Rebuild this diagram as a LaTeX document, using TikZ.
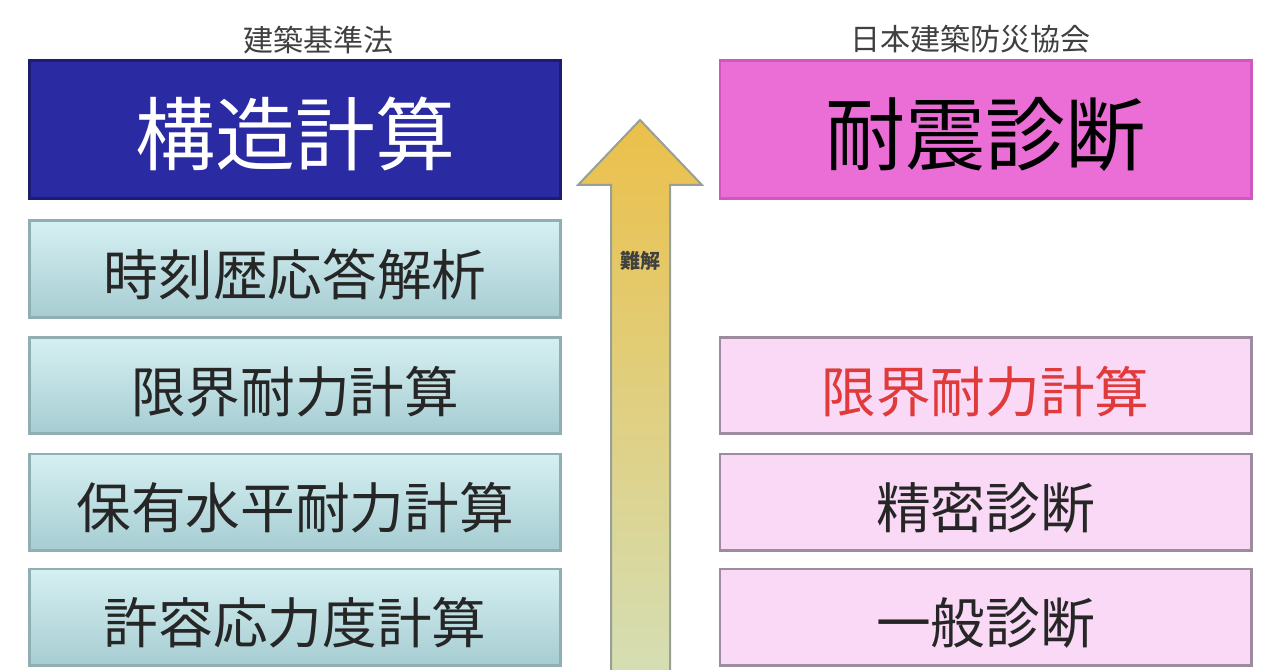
\documentclass[tikz,border=0pt]{standalone}
\usepackage{fontspec}
\newfontfamily\jpfont{Noto Sans CJK JP}

\definecolor{kozoBlue}{RGB}{42,42,162}
\definecolor{kozoEdge}{RGB}{28,28,112}
\definecolor{taiPink}{RGB}{234,110,214}
\definecolor{taiEdge}{RGB}{206,88,190}
\definecolor{palePink}{RGB}{249,217,245}
\definecolor{pinkEdge}{RGB}{156,140,158}
\definecolor{tealTop}{RGB}{214,240,242}
\definecolor{tealBot}{RGB}{166,205,210}
\definecolor{tealEdge}{RGB}{143,175,179}
\definecolor{arrowGold}{RGB}{235,192,74}
\definecolor{arrowPale}{RGB}{213,222,180}
\definecolor{arrowEdge}{RGB}{150,160,150}
\definecolor{hdrGray}{RGB}{64,64,64}
\definecolor{limitRed}{RGB}{224,58,58}

\tikzset{every picture/.style={line width=0.75pt}}
\tikzset{
	hdr/.style={font=\jpfont\fontsize{22.5}{24}\selectfont, text=hdrGray},
	topbox/.style={minimum width=398.5pt, minimum height=103.75pt, inner sep=0pt, line width=2pt, text height=52pt, text depth=0pt, font=\jpfont\fontsize{60}{64}\selectfont},
	rowbox/.style={minimum width=398.5pt, minimum height=72.25pt, inner sep=0pt, line width=2pt, text height=40pt, text depth=0pt, font=\jpfont\fontsize{41}{44}\selectfont},
	tealbox/.style={rowbox, top color=tealTop, bottom color=tealBot, draw=tealEdge, text=black!85},
	pinkbox/.style={rowbox, fill=palePink, draw=pinkEdge, text=black!85}}

\begin{document}
\begin{tikzpicture}[x=0.75pt,y=0.75pt,yscale=-1,xscale=1]
	\useasboundingbox (0,0) rectangle (1280,670);

	%Shape: Up Arrow
	\shade[top color=arrowGold, bottom color=arrowPale, draw=arrowEdge, line width=1.5pt] (611,674) -- (611,185) -- (578,185) -- (640,120) -- (702,185) -- (670,185) -- (670,674) -- cycle ;
	% Text Node
	\node[font=\jpfont\bfseries\fontsize{15}{16}\selectfont, text=hdrGray] (nankai) at (640,261) {難解};

	% Text Node
	\node[hdr] (kijun) at (318,40) {建築基準法};
	% Text Node
	\node[hdr] (kyokai) at (970,39) {日本建築防災協会};

	%Shape: Rectangle (left column)
	\node[topbox, fill=kozoBlue, draw=kozoEdge, text=white] (kozo) at (295,129.5) {構造計算};
	\node[tealbox] (jikoku) at (295,269) {時刻歴応答解析};
	\node[tealbox] (genkaiL) at (295,385.5) {限界耐力計算};
	\node[tealbox] (hoyu) at (295,502) {保有水平耐力計算};
	\node[tealbox] (kyoyo) at (295,617) {許容応力度計算};

	%Shape: Rectangle (right column)
	\node[topbox, fill=taiPink, draw=taiEdge, text=black] (taishin) at (985.5,129.5) {耐震診断};
	\node[pinkbox, text=limitRed] (genkaiR) at (985.5,385.5) {限界耐力計算};
	\node[pinkbox] (seimitsu) at (985.5,502) {精密診断};
	\node[pinkbox] (ippan) at (985.5,617) {一般診断};

\end{tikzpicture}
\end{document}
